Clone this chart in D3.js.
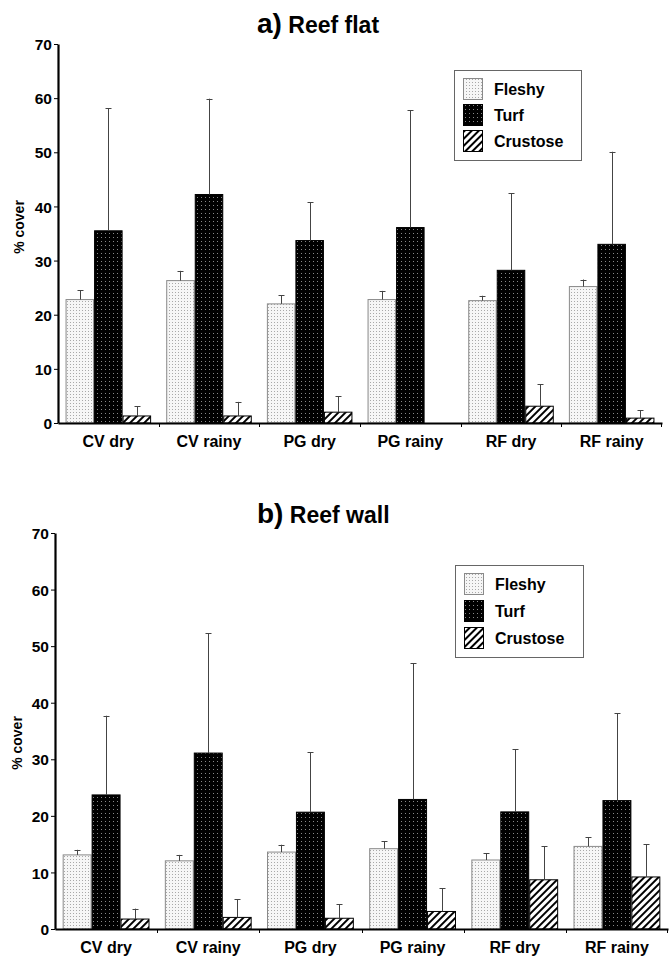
<!DOCTYPE html>
<html><head><meta charset="utf-8">
<script src="https://cdn.jsdelivr.net/npm/d3@7"></script>
<style>body{margin:0;background:#fff}svg{display:block}</style>
</head><body>
<script>
const categories = ["CV dry","CV rainy","PG dry","PG rainy","RF dry","RF rainy"];
const seriesNames = ["Fleshy","Turf","Crustose"];
const yTicks = [0,10,20,30,40,50,60,70];

// a) Reef flat
const flatFleshy = [22.8,26.3,22.0,22.8,22.6,25.2];
const flatFleshyErr = [24.5,28.1,23.6,24.4,23.5,26.5];
const flatTurf = [35.5,42.2,33.7,36.1,28.2,33.0];
const flatTurfErr = [58.1,59.9,40.8,57.8,42.4,50.1];
const flatCrust = [1.3,1.3,2.0,0,3.1,0.9];
const flatCrustErr = [3.1,3.9,4.9,null,7.2,2.4];

// b) Reef wall
const wallFleshy = [13.1,12.05,13.6,14.2,12.2,14.6];
const wallFleshyErr = [14.0,13.1,14.9,15.5,13.4,16.2];
const wallTurf = [23.7,31.1,20.65,22.9,20.7,22.7];
const wallTurfErr = [37.7,52.3,31.2,47.0,31.8,38.1];
const wallCrust = [1.76,2.05,1.9,3.1,8.7,9.2];
const wallCrustErr = [3.6,5.3,4.4,7.2,14.6,15.0];

const FONT = "'Liberation Sans',Arial,sans-serif";
const svg = d3.select("body").append("svg").attr("width",669).attr("height",958);
const defs = svg.append("defs");
// patterns
const pf = defs.append("pattern").attr("id","pFleshy").attr("patternUnits","userSpaceOnUse").attr("width",3).attr("height",3);
pf.append("rect").attr("width",3).attr("height",3).attr("fill","#f6f6f6");
pf.append("rect").attr("x",1).attr("y",1).attr("width",1).attr("height",1).attr("fill","#a8a8a8");
const pt = defs.append("pattern").attr("id","pTurf").attr("patternUnits","userSpaceOnUse").attr("width",4).attr("height",4);
pt.append("rect").attr("width",4).attr("height",4).attr("fill","#000");
pt.append("rect").attr("x",1).attr("y",1).attr("width",1).attr("height",1).attr("fill","#888");
const pc = defs.append("pattern").attr("id","pCrust").attr("patternUnits","userSpaceOnUse").attr("width",5).attr("height",5).attr("patternTransform","rotate(45)");
pc.append("rect").attr("width",5).attr("height",5).attr("fill","#fff");
pc.append("rect").attr("x",0).attr("y",0).attr("width",2).attr("height",5).attr("fill","#000");

const fills = ["url(#pFleshy)","url(#pTurf)","url(#pCrust)"];
const strokes = ["#8a8a8a","#000","#000"];

function panel(cfg){
  const g = svg.append("g");
  const x = d3.scaleBand().domain(categories).range([cfg.x0,cfg.x1]).paddingInner(0).paddingOuter(0);
  const xs = d3.scaleBand().domain(seriesNames).range([0,x.bandwidth()]).paddingInner(0).paddingOuter(0.265);
  const y = d3.scaleLinear().domain([0,70]).range([cfg.y0,cfg.y70]);
  const vals = cfg.vals, errs = cfg.errs;

  // bars
  seriesNames.forEach((s,si)=>{
    categories.forEach((c,ci)=>{
      const v = vals[si][ci];
      if(v>0){
        g.append("rect").attr("x",x(c)+xs(s)+0.5).attr("y",y(v)).attr("width",xs.bandwidth()-1).attr("height",y(0)-y(v))
          .attr("fill",fills[si]).attr("stroke",strokes[si]).attr("stroke-width",1);
      }
      const e = errs[si][ci];
      if(e!=null){
        const cx = Math.round(x(c)+xs(s)+xs.bandwidth()/2)+0.5;
        g.append("line").attr("x1",cx).attr("x2",cx).attr("y1",y(v)).attr("y2",y(e)).attr("stroke","#444").attr("stroke-width",1);
        g.append("line").attr("x1",cx-3).attr("x2",cx+3).attr("y1",Math.round(y(e))+0.5).attr("y2",Math.round(y(e))+0.5).attr("stroke","#444").attr("stroke-width",1);
      }
    });
  });

  // y axis
  const ya = g.append("g").attr("transform",`translate(${cfg.x0},0)`)
    .call(d3.axisLeft(y).tickValues(yTicks).tickSize(4).tickSizeOuter(0).tickPadding(2));
  ya.select(".domain").attr("stroke","#000").attr("stroke-width",2.2);
  ya.selectAll(".tick line").attr("stroke","#000").attr("stroke-width",1);
  ya.selectAll("text").attr("font-family",FONT).attr("font-weight","bold").attr("font-size",15.5).attr("fill","#000").attr("dy","0.36em");

  // x axis
  const xa = g.append("g").attr("transform",`translate(0,${cfg.y0})`)
    .call(d3.axisBottom(x).tickSize(0).tickPadding(13).tickSizeOuter(0));
  xa.select(".domain").attr("stroke","#000").attr("stroke-width",2.2);
  xa.selectAll("text").attr("font-family",FONT).attr("font-weight","bold").attr("font-size",16).attr("fill","#000");
  // boundary ticks
  categories.forEach((c,ci)=>{
    if(ci>0){
      const tx = Math.round(x(c))+0.5;
      g.append("line").attr("x1",tx).attr("x2",tx).attr("y1",cfg.y0).attr("y2",cfg.y0+4).attr("stroke","#000").attr("stroke-width",1);
    }
  });
  const tEnd = cfg.x1-0.5;
  g.append("line").attr("x1",tEnd).attr("x2",tEnd).attr("y1",cfg.y0).attr("y2",cfg.y0+4).attr("stroke","#000").attr("stroke-width",1);

  // y label
  g.append("text").attr("transform",`translate(${cfg.ylabX},${cfg.ylabY}) rotate(-90)`)
    .attr("text-anchor","middle").attr("font-family",FONT).attr("font-weight","bold").attr("font-size",14)
    .text("% cover");

  // title
  const t = g.append("text").attr("x",cfg.titleX).attr("y",cfg.titleY).attr("font-family",FONT).attr("font-weight","bold");
  t.append("tspan").attr("font-size",28).text(cfg.titleA);
  t.append("tspan").attr("font-size",23).text(" "+cfg.titleB);

  // legend
  const L = cfg.legend;
  g.append("rect").attr("x",L.x+0.5).attr("y",L.y+0.5).attr("width",L.w).attr("height",L.h).attr("fill","#fff").attr("stroke","#666").attr("stroke-width",1);
  seriesNames.forEach((s,si)=>{
    const ry = L.y+L.row0+si*L.step;
    g.append("rect").attr("x",L.x+9.5).attr("y",ry+0.5).attr("width",19).attr("height",21).attr("fill",fills[si]).attr("stroke",strokes[si]).attr("stroke-width",1);
    g.append("text").attr("x",L.x+40).attr("y",ry+16.5).attr("font-family",FONT).attr("font-weight","bold").attr("font-size",16).text(s);
  });
}

panel({x0:58,x1:662,y0:423,y70:44,vals:[flatFleshy,flatTurf,flatCrust],errs:[flatFleshyErr,flatTurfErr,flatCrustErr],
  ylabX:24,ylabY:227,titleX:257,titleY:33,titleA:"a)",titleB:"Reef flat",
  legend:{x:454,y:70,w:127,h:90,row0:8,step:26}});
panel({x0:55,x1:668,y0:929,y70:533,vals:[wallFleshy,wallTurf,wallCrust],errs:[wallFleshyErr,wallTurfErr,wallCrustErr],
  ylabX:22,ylabY:743,titleX:257,titleY:523,titleA:"b)",titleB:"Reef wall",
  legend:{x:455,y:565,w:128,h:92,row0:8,step:27}});
</script>
</body></html>
